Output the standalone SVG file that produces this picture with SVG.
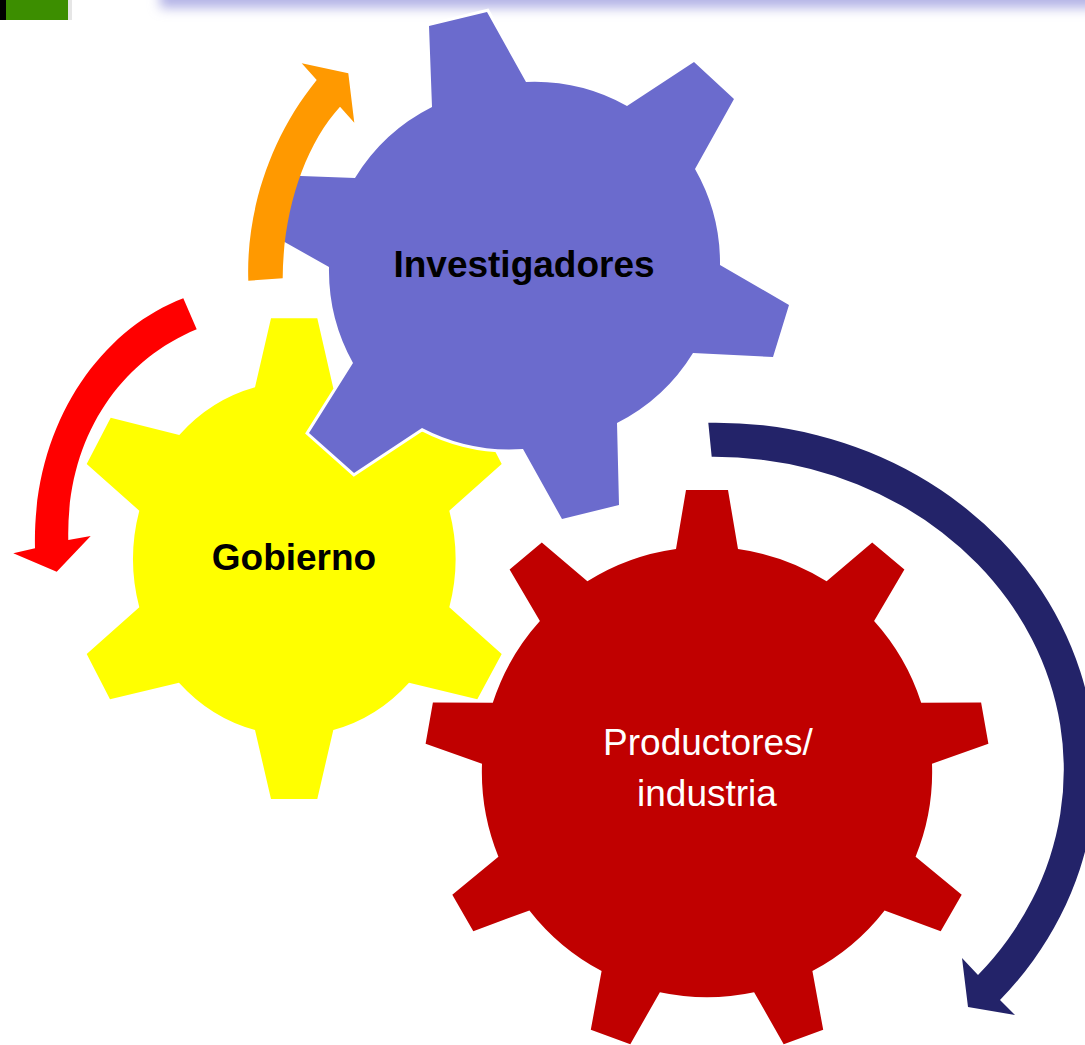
<svg xmlns="http://www.w3.org/2000/svg" width="1085" height="1045" viewBox="0 0 1085 1045">
  <style>
    .lbl-bold { font-family: "Liberation Sans", Arial, sans-serif; font-weight: bold; font-size: 37px; fill: #000; text-anchor: middle; }
    .lbl-white { font-family: "Liberation Sans", Arial, sans-serif; font-size: 37px; fill: #fff; text-anchor: middle; }
    .gear { stroke: #fff; stroke-width: 6; stroke-linejoin: miter; paint-order: stroke; }
  </style>
  <defs>
    <filter id="soft" x="-10%" y="-300%" width="120%" height="700%">
      <feGaussianBlur stdDeviation="6"/>
    </filter>
  </defs>
  <rect width="1085" height="1045" fill="#fff"/>

  <g id="header">
    <rect x="0" y="0" width="6" height="20" fill="#000"/>
    <rect x="6" y="0" width="62" height="20" fill="#3c8e00"/>
    <rect x="68" y="0" width="4" height="20" fill="#e6e6e6"/>
    <rect x="160" y="-16" width="1000" height="24" fill="#b3b3e6" filter="url(#soft)"/>
  </g>

  <g id="gear-gobierno">
    <path class="gear" fill="#ffff00" d="M255,387.3 L271,318.3 L317.3,318.3 L333.3,388.3 A162,176 0 0 1 409,435 L477.7,417.7 L501.7,464 L449.3,510.7 A162,176 0 0 1 449.3,607.3 L501.7,654 L477.3,699.3 L409,682.7 A162,176 0 0 1 333.3,730 L317.3,799 L271,799 L255,730 A162,176 0 0 1 179,682.7 L110,699.3 L86.7,654 L139.3,607.3 A162,176 0 0 1 139.3,510.7 L86.7,464 L110.7,417.7 L179.3,435 A162,176 0 0 1 255,387.3 Z"/>
    <text class="lbl-bold" x="294" y="570">Gobierno</text>
  </g>

  <g id="gear-investigadores">
    <path class="gear" fill="#6b6bcd" d="M432,107 L429,26 L487,12 L526,82 A190,190 0 0 1 627,106 L694,62 L734,99 L695,169 A190,190 0 0 1 720,265 L789,305 L773,357 L693,353 A190,190 0 0 1 617,423 L619,505 L562,519 L523,449 A190,190 0 0 1 422,428 L354,473 L309,433 L353,363 A190,190 0 0 1 329,267 L258,227 L274,175 L355,178 A190,190 0 0 1 432,107 Z"/>
    <text class="lbl-bold" x="524" y="277">Investigadores</text>
  </g>

  <g id="gear-productores">
    <path class="gear" fill="#c00000" d="M676,549 L686,490 L728,490 L738,549 A225,225 0 0 1 826.6,581.3 L872.2,542.5 L904.4,569.5 L874.1,621.1 A225,225 0 0 1 921.2,702.8 L981.1,702.4 L988.4,743.7 L932,763.8 A225,225 0 0 1 915.6,856.7 L961.7,894.8 L940.7,931.2 L884.6,910.4 A225,225 0 0 1 812.4,971 L823.2,1029.8 L783.7,1044.2 L754.1,992.2 A225,225 0 0 1 659.9,992.2 L630.3,1044.2 L590.8,1029.8 L601.6,971 A225,225 0 0 1 529.4,910.4 L473.3,931.2 L452.3,894.8 L498.4,856.7 A225,225 0 0 1 482,763.8 L425.6,743.7 L432.9,702.4 L492.8,702.8 A225,225 0 0 1 539.9,621.1 L509.6,569.5 L541.8,542.5 L587.4,581.3 A225,225 0 0 1 676,549 Z"/>
    <text class="lbl-white" x="708" y="755">Productores/</text>
    <text class="lbl-white" x="707" y="806">industria</text>
  </g>

  <g id="connectors">
    <path id="arrow-orange" fill="#ff9900" d="M248.3,280.7 C246,215 268,140 316.7,80 L301.7,63.3 L348.3,73.3 L354.3,122.7 L340,106.7 C305,145 283,210 282.7,278.3 Z"/>
    <path id="arrow-red" fill="#ff0000" d="M183.3,298.3 C100,330 32,425 35,548.3 L13.3,553.3 L56.7,571.7 L90.7,536 L68.3,540 C66,440 118,362 196.7,329.3 Z"/>
    <path id="arrow-navy" fill="#232369" d="M708.3,422.7 A380,347 0 0 1 1000,1000 L1015,1015 L968,1007 L962,958 L978,975 A350,313 0 0 0 711.7,456.7 Z"/>
  </g>
</svg>
